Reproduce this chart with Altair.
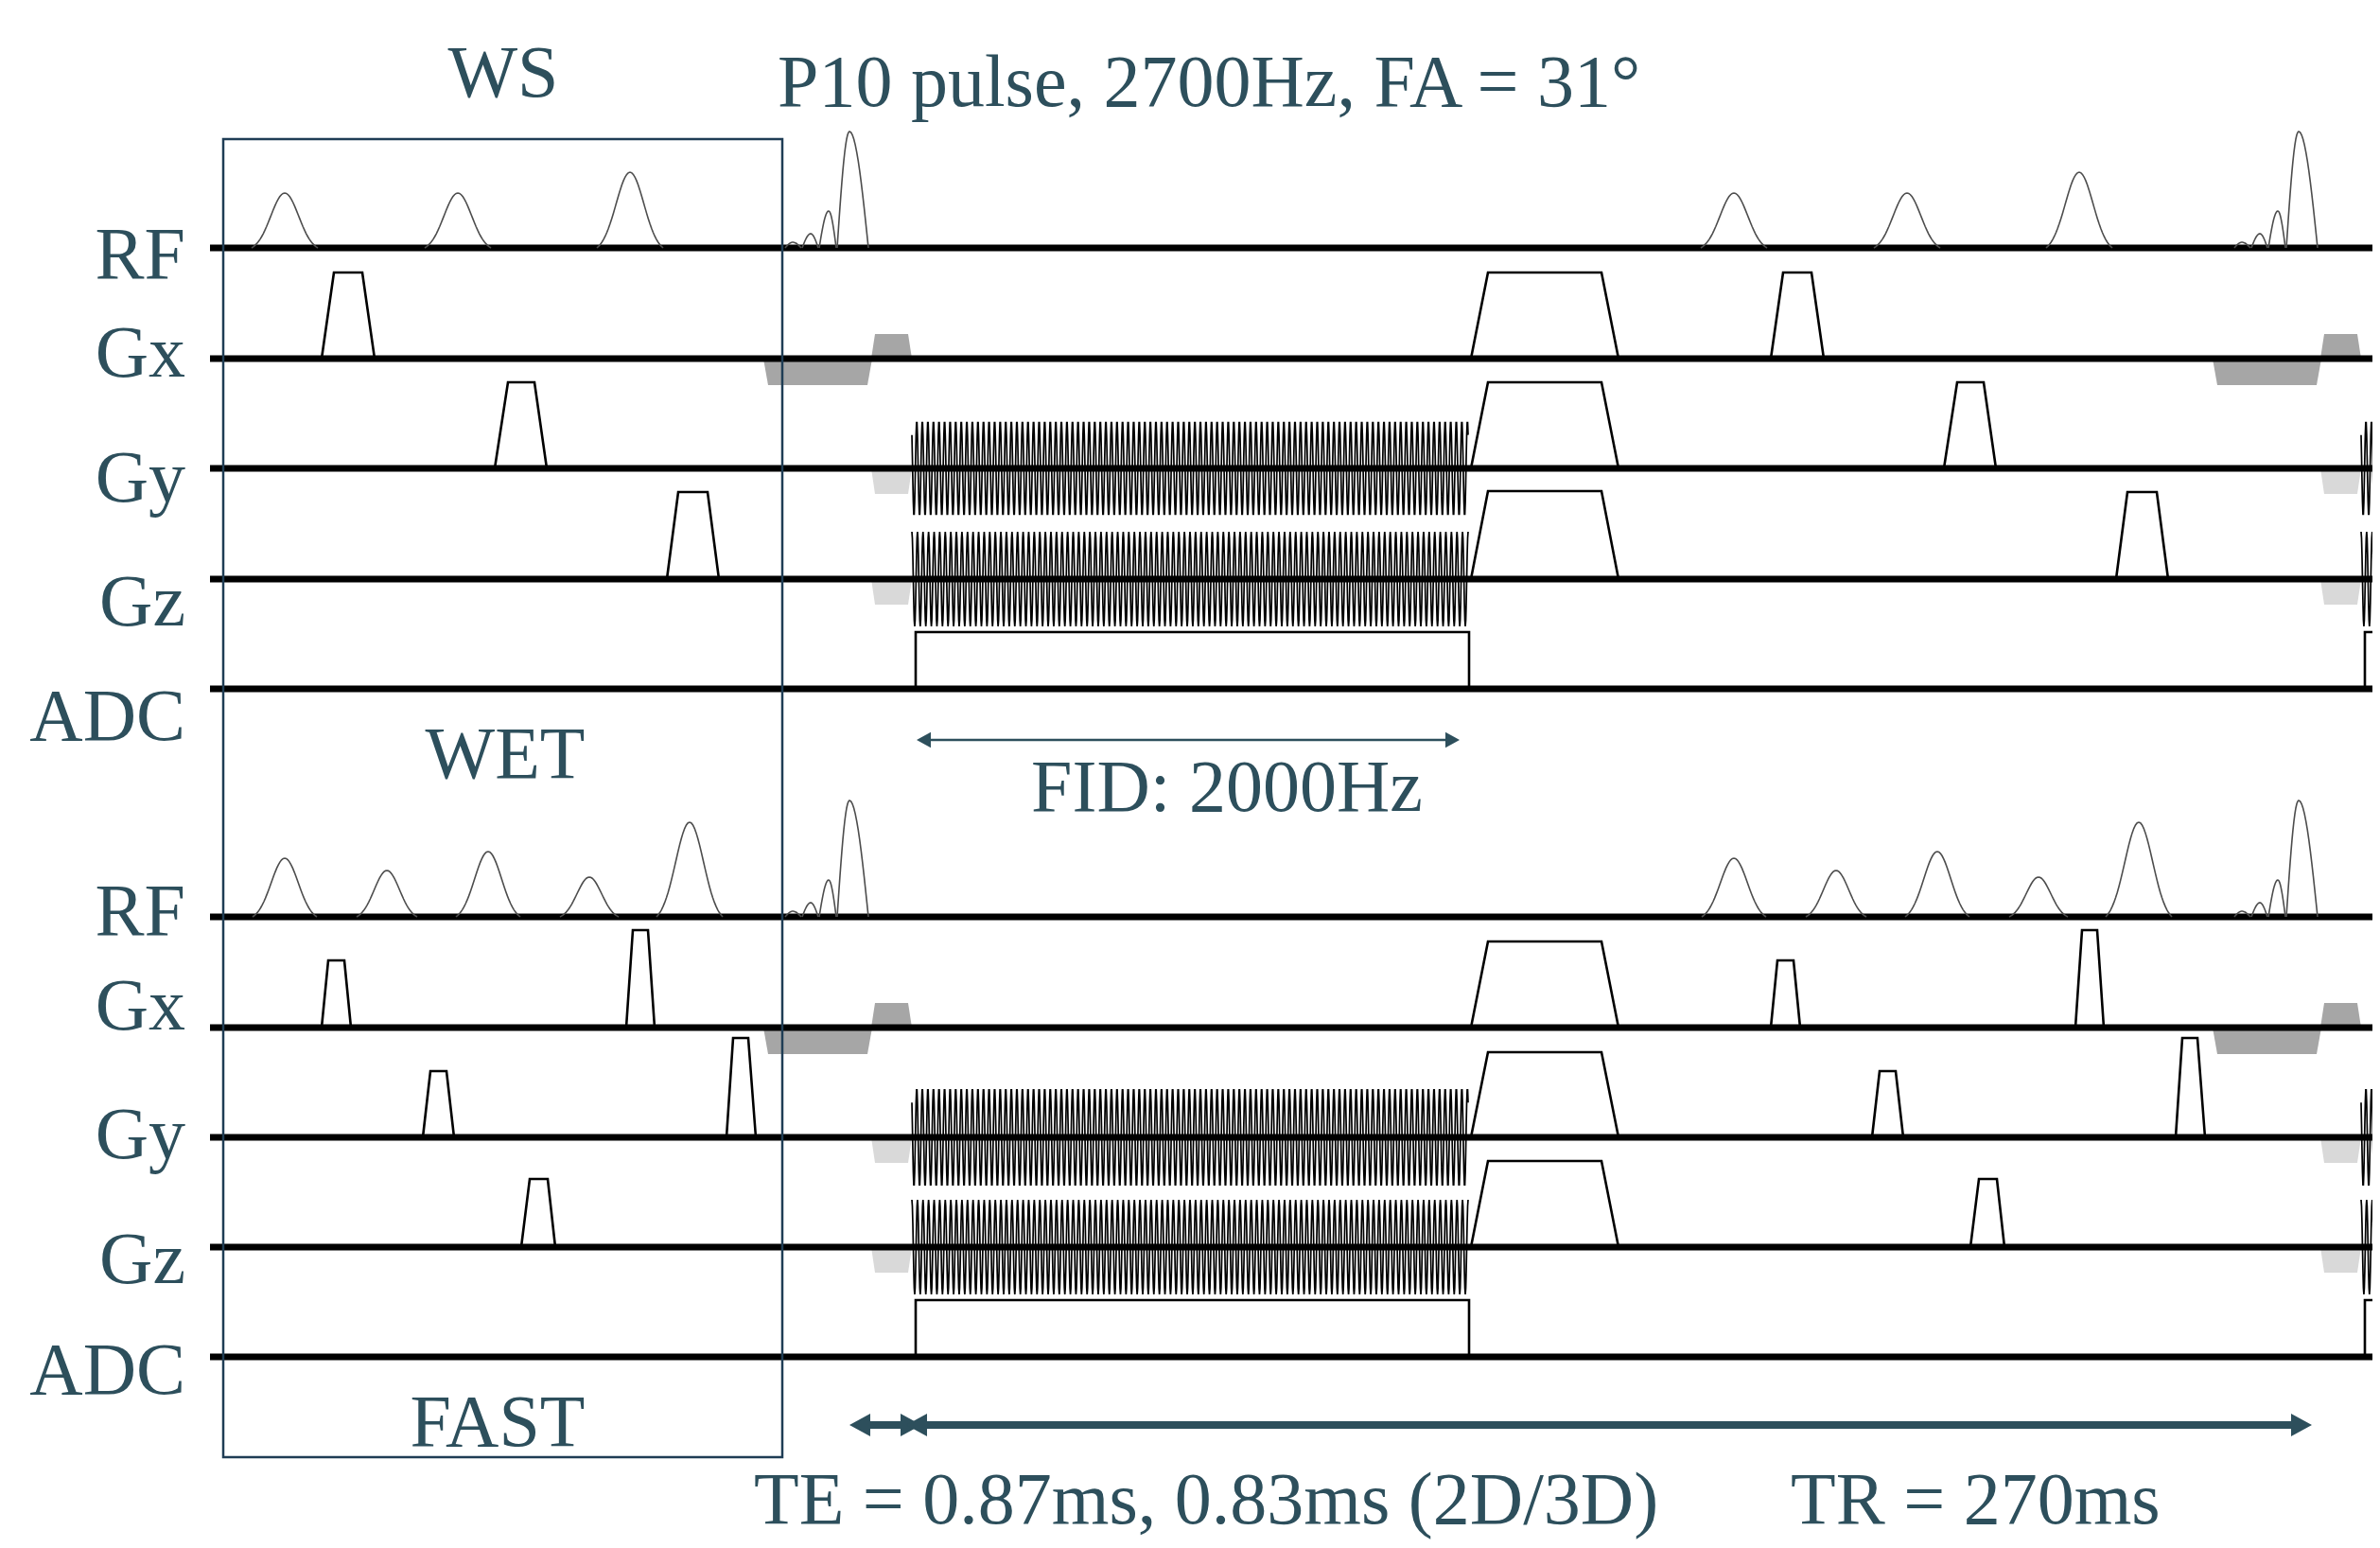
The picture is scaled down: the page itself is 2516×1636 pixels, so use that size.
import numpy as np
import pandas as pd
import altair as alt

TEXT = "#2d4f5c"
BOX = "#1f3d55"
FONT = "Liberation Serif"

# ---------------- values (drawing units = px-like time / amplitude) -------------
tr_shift = 1532                      # one TR on the time axis

channels = ["RF", "Gx", "Gy", "Gz", "ADC"]
ws_baselines = [262, 379, 495, 612, 728]
wet_baselines = [969, 1086, 1202, 1318, 1434]
ws_label_y = [294, 398, 530, 661, 782]
wet_label_y = [988, 1088, 1224, 1356, 1473]
label_x = 196
line_start, line_end = 222, 2516

# water-suppression RF pulses: centre, half width, height
ws_rf_center = [301, 484, 666]
ws_rf_half = [35, 35, 35]
ws_rf_height = [58, 58, 80]
wet_rf_center = [301, 409, 516, 623, 729]
wet_rf_half = [34, 32, 34, 31, 35]
wet_rf_height = [62, 49, 69, 42, 100]

# excitation pulse lobes: start, peak, end, height
sinc_start = [830, 848, 866, 885]
sinc_peak = [838, 857, 876, 898]
sinc_end = [847, 865, 884, 918]
sinc_height = [6, 15, 39, 123]

# crusher trapezoids: channel index, ramp-up start, flat start, flat end, ramp-down end, height
ws_trap_ch = [1, 2, 3]
ws_trap_a = [340, 523, 705]
ws_trap_b = [353, 537, 717]
ws_trap_c = [383, 565, 748]
ws_trap_d = [396, 578, 760]
ws_trap_h = [91, 91, 92]

wet_trap_ch = [1, 1, 2, 2, 3]
wet_trap_a = [340, 662, 447, 768, 551]
wet_trap_b = [347, 669, 455, 775, 560]
wet_trap_c = [364, 685, 472, 791, 579]
wet_trap_d = [371, 692, 480, 799, 587]
wet_trap_h = [71, 103, 70, 105, 72]

# spoiler after the readout
read_trap_ch = [1, 2, 3]
read_trap_a = [1555, 1555, 1555]
read_trap_b = [1573, 1573, 1573]
read_trap_c = [1693, 1693, 1693]
read_trap_d = [1711, 1711, 1711]
ws_read_h = [91, 91, 93]
wet_read_h = [91, 90, 91]

# grey pre-phasing lobes
gray_ch = [1, 1, 2, 3]
gray_a = [807, 921, 921, 921]
gray_b = [812, 925, 925, 925]
gray_c = [917, 960, 960, 960]
gray_d = [922, 964, 964, 964]
gray_amp = [-28, 26, -27, -27]
gray_fill = ["#a6a6a6", "#a6a6a6", "#d9d9d9", "#d9d9d9"]

# spiral readout gradients
spiral_ch = [2, 3]
spiral_start, spiral_end = 964, 1552
spiral_cycles = 100
ws_spiral_amp = [50, 50]
wet_spiral_amp = [52, 50]
spiral_phase = [0.5, 0.0]

# ADC window
adc_start, adc_end, adc_height = 968, 1553, 60

box = dict(x=236, x2=827, y=147, y2=1540)

# ---------------- build tables ----------------
rf_rows, trap_rows, spiral_rows, adc_rows, lobe_rows = [], [], [], [], []


def add(rows, xs, ys, sid, **extra):
    for i, (xv, yv) in enumerate(zip(xs, ys)):
        r = dict(x=float(xv), y=float(yv), sid=sid, o=i)
        r.update(extra)
        rows.append(r)


def gauss_shape(c, hw, h, base, n=41):
    t = np.linspace(-1, 1, n)
    s = 0.42
    g = np.exp(-t ** 2 / (2 * s * s))
    e0 = np.exp(-1 / (2 * s * s))
    g = (g - e0) / (1 - e0)
    return c + hw * t, base - h * g


def lobe_shape(a, p, b, h, base, n=14):
    u = np.linspace(0, 1, n)
    x1 = a + (p - a) * u
    y1 = base - h * np.sin(np.pi / 2 * u)
    x2 = p + (b - p) * u[1:]
    y2 = base - h * np.cos(np.pi / 2 * u[1:])
    return np.concatenate([x1, x2]), np.concatenate([y1, y2])


panels = [
    dict(base=ws_baselines, rf=(ws_rf_center, ws_rf_half, ws_rf_height),
         trap=(ws_trap_ch, ws_trap_a, ws_trap_b, ws_trap_c, ws_trap_d, ws_trap_h),
         read_h=ws_read_h, spiral_amp=ws_spiral_amp),
    dict(base=wet_baselines, rf=(wet_rf_center, wet_rf_half, wet_rf_height),
         trap=(wet_trap_ch, wet_trap_a, wet_trap_b, wet_trap_c, wet_trap_d, wet_trap_h),
         read_h=wet_read_h, spiral_amp=wet_spiral_amp),
]

for pi, P in enumerate(panels):
    base = P["base"]
    for rep in range(2):
        off = rep * tr_shift
        tag = f"{pi}_{rep}"
        for k, (c, hw, h) in enumerate(zip(*P["rf"])):
            xs_, ys_ = gauss_shape(c + off, hw, h, base[0])
            add(rf_rows, xs_, ys_, f"rf{tag}_{k}")
        for k, (a, p, b, h) in enumerate(zip(sinc_start, sinc_peak, sinc_end, sinc_height)):
            xs_, ys_ = lobe_shape(a + off, p + off, b + off, h, base[0])
            add(rf_rows, xs_, ys_, f"sinc{tag}_{k}")
        for k, (ch, a, b, c, d, h) in enumerate(zip(*P["trap"])):
            add(trap_rows, [a + off, b + off, c + off, d + off],
                [base[ch], base[ch] - h, base[ch] - h, base[ch]], f"t{tag}_{k}")
        for k, (ch, a, b, c, d, h) in enumerate(zip(read_trap_ch, read_trap_a, read_trap_b,
                                                     read_trap_c, read_trap_d, P["read_h"])):
            add(trap_rows, [a + off, b + off, c + off, d + off],
                [base[ch], base[ch] - h, base[ch] - h, base[ch]], f"r{tag}_{k}")
        # filled grey lobes: drawn as a filled polygon symbol anchored at (a, baseline);
        # with size 4 the symbol path is in plot pixels (1 data unit = 1 px here)
        for k, (ch, a, b, c, d, amp, col) in enumerate(zip(gray_ch, gray_a, gray_b, gray_c,
                                                            gray_d, gray_amp, gray_fill)):
            path = (f"M0,0L{b - a},{-amp}L{c - a},{-amp}L{d - a},0Z")
            lobe_rows.append(dict(x=float(a + off), y=float(base[ch]), shape=path, fill=col))
        for k, (ch, amp, ph) in enumerate(zip(spiral_ch, P["spiral_amp"], spiral_phase)):
            n = spiral_cycles * 12 + 1
            t = np.linspace(0, 1, n)
            xs_ = spiral_start + off + (spiral_end - spiral_start) * t
            ys_ = base[ch] - amp * np.cos(2 * np.pi * (spiral_cycles * t + ph * 0.25))
            add(spiral_rows, xs_, ys_, f"s{tag}_{k}")
        add(adc_rows, [adc_start + off, adc_start + off, adc_end + off, adc_end + off],
            [base[4], base[4] - adc_height, base[4] - adc_height, base[4]], f"adc{tag}")

rf_df = pd.DataFrame(rf_rows)
trap_df = pd.DataFrame(trap_rows)
spiral_df = pd.DataFrame(spiral_rows)
adc_df = pd.DataFrame(adc_rows)
lobe_df = pd.DataFrame(lobe_rows)

baseline_df = pd.DataFrame({"x": line_start, "x2": line_end, "y": ws_baselines + wet_baselines})

label_df = pd.DataFrame({"text": channels + channels, "x": label_x, "y": ws_label_y + wet_label_y})
center_text_df = pd.DataFrame({
    "text": ["WS", "WET", "FAST", "FID: 2000Hz"],
    "x": [532, 534, 526, 1297],
    "y": [102, 822, 1528, 857],
})
left_text_df = pd.DataFrame({
    "text": ["P10 pulse, 2700Hz, FA = 31°", "TE = 0.87ms, 0.83ms (2D/3D)", "TR = 270ms"],
    "x": [822, 797, 1893],
    "y": [112, 1610, 1610],
})

# arrows: left tip, right tip, y, shaft width, head length
arrow_left = [969, 898, 958]
arrow_right = [1543, 974, 2444]
arrow_y = [782, 1506, 1506]
arrow_w = [2.5, 8, 8]
arrow_head = [15, 22, 22]
shaft_df = pd.DataFrame({
    "x": [l + h / 2 for l, h in zip(arrow_left, arrow_head)],
    "x2": [r - h / 2 for r, h in zip(arrow_right, arrow_head)],
    "y": arrow_y, "w": arrow_w,
})
LEFT_HEAD = "M1,-1.1L-1,0L1,1.1Z"
RIGHT_HEAD = "M-1,-1.1L1,0L-1,1.1Z"
head_rows = []
for l, r, yv, h in zip(arrow_left, arrow_right, arrow_y, arrow_head):
    head_rows.append(dict(x=l + h / 2, y=yv, shape=LEFT_HEAD, size=h * h))
    head_rows.append(dict(x=r - h / 2, y=yv, shape=RIGHT_HEAD, size=h * h))
head_df = pd.DataFrame(head_rows)

box_df = pd.DataFrame([box])

# ---------------- chart ----------------
xs = alt.Scale(domain=[8, 2508], nice=False, zero=False)
ys = alt.Scale(domain=[8, 1628], nice=False, zero=False, reverse=True)


def X(f="x"):
    return alt.X(f"{f}:Q", scale=xs, axis=None)


def Y(f="y"):
    return alt.Y(f"{f}:Q", scale=ys, axis=None)


lobes = alt.Chart(lobe_df).mark_point(filled=True, opacity=1, strokeWidth=0, size=4,
                                      clip=True).encode(
    x=X(), y=Y(), shape=alt.Shape("shape:N", scale=None),
    color=alt.Color("fill:N", scale=None))

baselines = alt.Chart(baseline_df).mark_rule(strokeWidth=7, color="black", clip=True).encode(
    x=X(), x2=alt.X2("x2:Q"), y=Y())

rf_lines = alt.Chart(rf_df).mark_line(strokeWidth=1.6, color="#4d4d4d", clip=True).encode(
    x=X(), y=Y(), detail="sid:N", order="o:Q")

trap_lines = alt.Chart(trap_df).mark_line(strokeWidth=2.6, color="black", clip=True,
                                          strokeJoin="miter").encode(
    x=X(), y=Y(), detail="sid:N", order="o:Q")

spiral_lines = alt.Chart(spiral_df).mark_line(strokeWidth=1.7, color="black", clip=True).encode(
    x=X(), y=Y(), detail="sid:N", order="o:Q")

adc_lines = alt.Chart(adc_df).mark_line(strokeWidth=2.6, color="black", clip=True,
                                        strokeJoin="miter").encode(
    x=X(), y=Y(), detail="sid:N", order="o:Q")

box_mark = alt.Chart(box_df).mark_rect(fillOpacity=0, stroke=BOX, strokeWidth=2.5).encode(
    x=X(), x2=alt.X2("x2:Q"), y=Y(), y2=alt.Y2("y2:Q"))

shafts = alt.Chart(shaft_df).mark_rule(color=TEXT).encode(
    x=X(), x2=alt.X2("x2:Q"), y=Y(), strokeWidth=alt.StrokeWidth("w:Q", scale=None))

heads = alt.Chart(head_df).mark_point(filled=True, color=TEXT, opacity=1, strokeWidth=0).encode(
    x=X(), y=Y(), shape=alt.Shape("shape:N", scale=None), size=alt.Size("size:Q", scale=None))

labels = alt.Chart(label_df).mark_text(font=FONT, fontSize=78, color=TEXT, align="right",
                                       baseline="alphabetic").encode(x=X(), y=Y(), text="text:N")
ctext = alt.Chart(center_text_df).mark_text(font=FONT, fontSize=78, color=TEXT, align="center",
                                            baseline="alphabetic").encode(x=X(), y=Y(), text="text:N")
ltext = alt.Chart(left_text_df).mark_text(font=FONT, fontSize=78, color=TEXT, align="left",
                                          baseline="alphabetic").encode(x=X(), y=Y(), text="text:N")

chart = alt.layer(
    lobes, baselines, rf_lines, trap_lines, spiral_lines, adc_lines,
    shafts, heads, labels, ctext, ltext, box_mark,
).properties(
    width=2500, height=1620, padding=0,
    autosize=alt.AutoSizeParams(type="none"),
    background="white",
).configure_view(stroke=None)

chart.save("out.html", embed_options={"renderer": "svg", "actions": False})
